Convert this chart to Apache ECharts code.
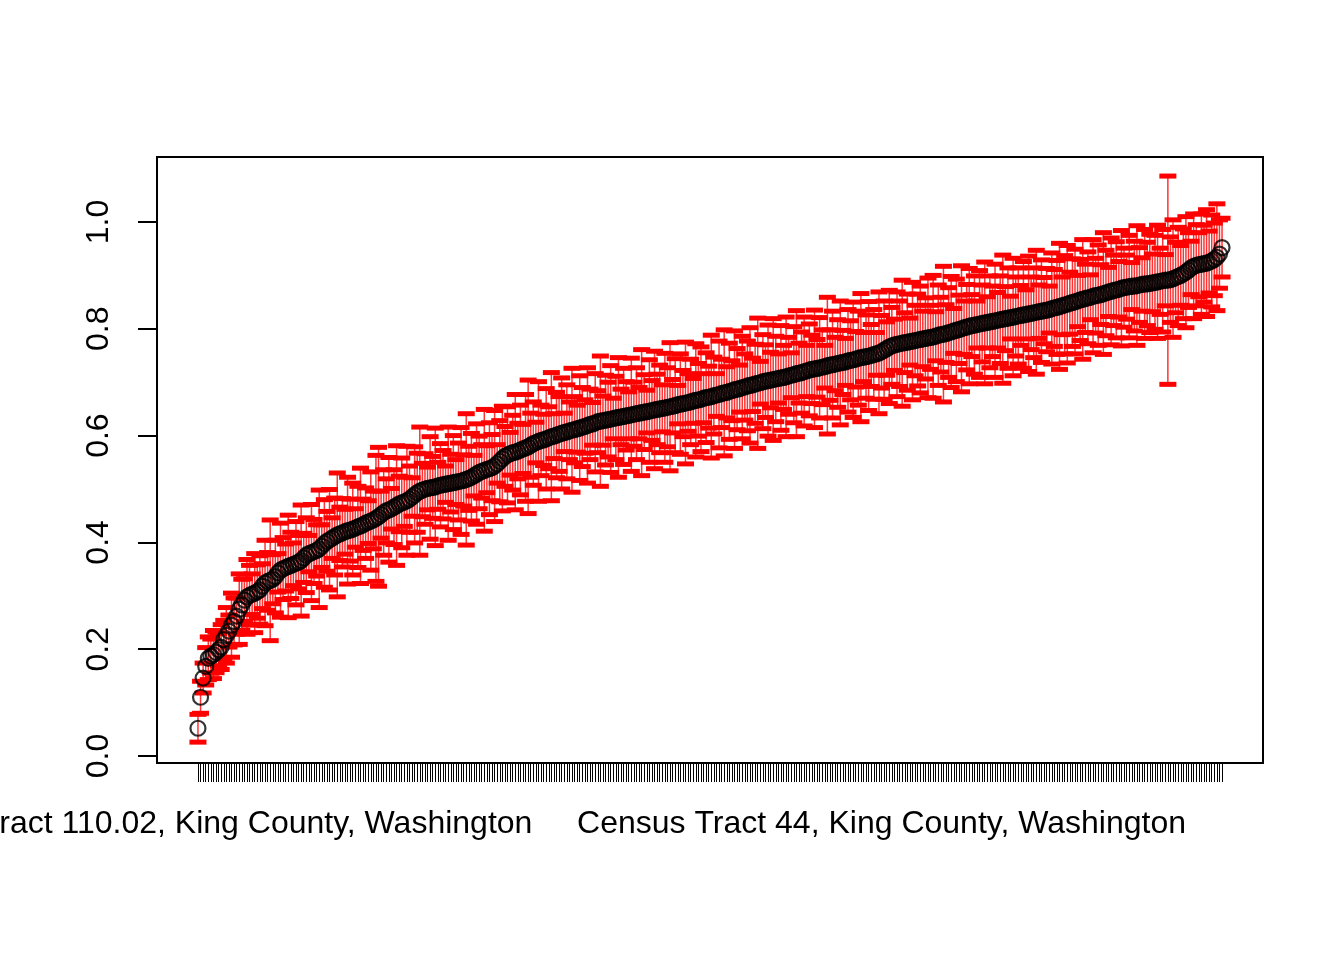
<!DOCTYPE html>
<html lang="en" style="height: 100%">
  <head>
    <meta charset="utf-8" />
  </head>
  <body style="height: 100%; margin: 0; overflow: hidden; background: #fff">
    <div id="container" style="width: 1344px; height: 960px"></div>
    <script type="text/javascript" src="https://cdn.jsdelivr.net/npm/echarts@6/dist/echarts.min.js"></script>
    <script type="text/javascript">
      // sorted estimate per census tract (black circles)
      const estimate = [
        0.052, 0.110, 0.146, 0.168, 0.183, 0.187, 0.190, 0.194, 0.199, 0.204,
        0.218, 0.226, 0.234, 0.245, 0.252, 0.262, 0.275, 0.283, 0.292, 0.298,
        0.301, 0.303, 0.305, 0.308, 0.311, 0.318, 0.324, 0.327, 0.329, 0.331,
        0.336, 0.343, 0.348, 0.351, 0.353, 0.355, 0.357, 0.359, 0.361, 0.363,
        0.366, 0.371, 0.376, 0.379, 0.381, 0.383, 0.385, 0.388, 0.393, 0.398,
        0.402, 0.405, 0.408, 0.411, 0.414, 0.416, 0.418, 0.420, 0.422, 0.423,
        0.425, 0.427, 0.429, 0.431, 0.433, 0.436, 0.438, 0.440, 0.442, 0.445,
        0.448, 0.452, 0.456, 0.459, 0.461, 0.463, 0.466, 0.469, 0.472, 0.474,
        0.476, 0.478, 0.481, 0.485, 0.489, 0.493, 0.496, 0.498, 0.500, 0.501,
        0.502, 0.503, 0.504, 0.506, 0.507, 0.508, 0.509, 0.510, 0.511, 0.512,
        0.513, 0.514, 0.515, 0.516, 0.518, 0.520, 0.522, 0.525, 0.528, 0.531,
        0.533, 0.535, 0.537, 0.538, 0.540, 0.543, 0.547, 0.552, 0.557, 0.561,
        0.564, 0.566, 0.568, 0.569, 0.571, 0.573, 0.575, 0.577, 0.579, 0.582,
        0.585, 0.587, 0.589, 0.591, 0.592, 0.594, 0.596, 0.598, 0.599, 0.601,
        0.603, 0.604, 0.606, 0.607, 0.609, 0.610, 0.611, 0.613, 0.614, 0.616,
        0.617, 0.619, 0.621, 0.622, 0.624, 0.626, 0.627, 0.628, 0.629, 0.630,
        0.631, 0.632, 0.633, 0.634, 0.635, 0.636, 0.637, 0.638, 0.639, 0.640,
        0.641, 0.642, 0.643, 0.644, 0.645, 0.646, 0.647, 0.648, 0.649, 0.650,
        0.651, 0.652, 0.653, 0.654, 0.655, 0.656, 0.658, 0.659, 0.660, 0.661,
        0.662, 0.663, 0.665, 0.666, 0.667, 0.668, 0.670, 0.671, 0.672, 0.673,
        0.675, 0.676, 0.677, 0.679, 0.680, 0.681, 0.683, 0.684, 0.686, 0.687,
        0.688, 0.690, 0.691, 0.693, 0.694, 0.695, 0.697, 0.698, 0.699, 0.701,
        0.702, 0.703, 0.704, 0.705, 0.706, 0.707, 0.708, 0.709, 0.710, 0.712,
        0.713, 0.714, 0.716, 0.717, 0.718, 0.720, 0.721, 0.723, 0.724, 0.725,
        0.726, 0.727, 0.728, 0.729, 0.731, 0.732, 0.733, 0.734, 0.735, 0.736,
        0.737, 0.738, 0.740, 0.741, 0.742, 0.743, 0.745, 0.746, 0.747, 0.748,
        0.749, 0.750, 0.752, 0.753, 0.755, 0.757, 0.760, 0.763, 0.766, 0.768,
        0.770, 0.771, 0.772, 0.773, 0.774, 0.775, 0.776, 0.777, 0.778, 0.779,
        0.780, 0.781, 0.782, 0.783, 0.784, 0.785, 0.786, 0.788, 0.789, 0.790,
        0.791, 0.793, 0.794, 0.796, 0.797, 0.799, 0.800, 0.802, 0.803, 0.805,
        0.806, 0.807, 0.808, 0.809, 0.810, 0.811, 0.812, 0.813, 0.814, 0.815,
        0.816, 0.817, 0.818, 0.819, 0.820, 0.821, 0.822, 0.823, 0.824, 0.825,
        0.826, 0.827, 0.828, 0.829, 0.830, 0.831, 0.832, 0.833, 0.834, 0.835,
        0.836, 0.838, 0.839, 0.840, 0.842, 0.843, 0.845, 0.846, 0.848, 0.849,
        0.851, 0.852, 0.854, 0.855, 0.857, 0.858, 0.859, 0.861, 0.862, 0.863,
        0.864, 0.866, 0.867, 0.869, 0.870, 0.872, 0.873, 0.874, 0.876, 0.877,
        0.878, 0.879, 0.880, 0.880, 0.881, 0.882, 0.883, 0.884, 0.884, 0.885,
        0.886, 0.887, 0.888, 0.889, 0.890, 0.891, 0.891, 0.892, 0.894, 0.896,
        0.898, 0.900, 0.903, 0.906, 0.910, 0.914, 0.917, 0.919, 0.920, 0.921,
        0.922, 0.923, 0.925, 0.927, 0.930, 0.934, 0.940, 0.952
      ]

      // half-width of each red interval
      const halfWidth = [
        0.026, 0.030, 0.028, 0.035, 0.040, 0.032, 0.045, 0.038, 0.030, 0.042,
        0.036, 0.052, 0.030, 0.060, 0.044, 0.034, 0.066, 0.048, 0.040, 0.070,
        0.056, 0.038, 0.074, 0.050, 0.064, 0.042, 0.080, 0.054, 0.113, 0.046,
        0.068, 0.036, 0.088, 0.058, 0.044, 0.096, 0.062, 0.040, 0.078, 0.050,
        0.104, 0.046, 0.070, 0.034, 0.090, 0.060, 0.048, 0.110, 0.040, 0.082,
        0.056, 0.094, 0.038, 0.072, 0.116, 0.050, 0.064, 0.042, 0.100, 0.058,
        0.086, 0.036, 0.076, 0.108, 0.048, 0.066, 0.040, 0.092, 0.054, 0.118,
        0.130, 0.044, 0.080, 0.060, 0.098, 0.038, 0.070, 0.112, 0.052, 0.084,
        0.046, 0.102, 0.062, 0.036, 0.090, 0.074, 0.120, 0.050, 0.066, 0.040,
        0.096, 0.058, 0.110, 0.044, 0.078, 0.064, 0.034, 0.106, 0.054, 0.088,
        0.042, 0.072, 0.100, 0.048, 0.123, 0.060, 0.082, 0.038, 0.094, 0.068,
        0.050, 0.114, 0.044, 0.086, 0.062, 0.104, 0.036, 0.076, 0.098, 0.056,
        0.090, 0.040, 0.070, 0.108, 0.052, 0.084, 0.046, 0.100, 0.125, 0.060,
        0.078, 0.038, 0.112, 0.066, 0.048, 0.094, 0.058, 0.120, 0.042, 0.080,
        0.070, 0.104, 0.036, 0.088, 0.054, 0.116, 0.062, 0.044, 0.098, 0.074,
        0.050, 0.108, 0.066, 0.040, 0.092, 0.058, 0.122, 0.046, 0.084, 0.070,
        0.100, 0.038, 0.078, 0.112, 0.052, 0.090, 0.064, 0.044, 0.106, 0.060,
        0.086, 0.048, 0.118, 0.070, 0.040, 0.096, 0.056, 0.110, 0.066, 0.082,
        0.044, 0.102, 0.074, 0.120, 0.050, 0.088, 0.036, 0.094, 0.062, 0.114,
        0.054, 0.080, 0.042, 0.106, 0.068, 0.098, 0.046, 0.084, 0.058, 0.115,
        0.072, 0.040, 0.100, 0.064, 0.118, 0.048, 0.090, 0.056, 0.110, 0.076,
        0.044, 0.096, 0.062, 0.084, 0.108, 0.050, 0.074, 0.122, 0.040, 0.088,
        0.068, 0.104, 0.052, 0.114, 0.080, 0.046, 0.098, 0.060, 0.112, 0.072,
        0.042, 0.090, 0.118, 0.056, 0.076, 0.102, 0.048, 0.086, 0.064, 0.110,
        0.054, 0.094, 0.070, 0.040, 0.128, 0.066, 0.100, 0.050, 0.082, 0.116,
        0.060, 0.044, 0.096, 0.074, 0.108, 0.052, 0.088, 0.120, 0.046, 0.078,
        0.102, 0.058, 0.084, 0.040, 0.114, 0.068, 0.092, 0.050, 0.106, 0.072,
        0.048, 0.098, 0.080, 0.118, 0.056, 0.090, 0.044, 0.110, 0.066, 0.086,
        0.100, 0.052, 0.076, 0.112, 0.060, 0.115, 0.046, 0.094, 0.070, 0.127,
        0.054, 0.084, 0.104, 0.042, 0.096, 0.064, 0.118, 0.050, 0.080, 0.108,
        0.058, 0.092, 0.044, 0.100, 0.072, 0.114, 0.048, 0.086, 0.066, 0.106,
        0.052, 0.082, 0.120, 0.060, 0.094, 0.040, 0.110, 0.074, 0.090, 0.056,
        0.100, 0.046, 0.108, 0.068, 0.084, 0.116, 0.050, 0.096, 0.062, 0.078,
        0.044, 0.104, 0.072, 0.088, 0.118, 0.054, 0.092, 0.110, 0.058, 0.082,
        0.098, 0.048, 0.076, 0.112, 0.064, 0.086, 0.042, 0.106, 0.070, 0.094,
        0.056, 0.114, 0.080, 0.046, 0.100, 0.066, 0.090, 0.052, 0.108, 0.074,
        0.060, 0.096, 0.044, 0.084, 0.112, 0.070, 0.050, 0.102, 0.078, 0.092,
        0.054, 0.088, 0.106, 0.062, 0.096, 0.048, 0.195, 0.080, 0.110, 0.066,
        0.092, 0.056, 0.084, 0.104, 0.070, 0.050, 0.098, 0.076, 0.060, 0.094,
        0.072, 0.100, 0.058, 0.086, 0.068, 0.100, 0.064, 0.055
      ]

      // the only tick labels R had room for (1-based position on the axis)
      const labelPositions = [1, 266]
      const labelTexts = [
        'Census Tract 110.02, King County, Washington',
        'Census Tract 44, King County, Washington'
      ]
      const yTicks = [0, 0.2, 0.4, 0.6, 0.8, 1.0]

      const n = estimate.length
      const positions = estimate.map((_, i) => i + 1)
      const points = estimate.map((v, i) => [i + 1, v])
      const bars = estimate.map((v, i) => [i + 1, v - halfWidth[i], v + halfWidth[i]])

      const FONT = '"Liberation Sans", Arial, Helvetica, sans-serif'
      const RED = '#ff0000'

      const chart = echarts.init(document.getElementById('container'), null, { renderer: 'canvas' })

      const option = {
        animation: false,
        backgroundColor: '#fff',
        grid: {
          left: 157,
          right: 81,
          top: 157,
          bottom: 197,
          containLabel: false,
          outerBoundsMode: 'none',
          show: true,
          borderColor: '#000',
          borderWidth: 2,
          backgroundColor: 'transparent'
        },
        xAxis: {
          type: 'value',
          min: 1 - 0.04 * (n - 1),
          max: n + 0.04 * (n - 1),
          splitLine: { show: false },
          axisLine: { show: false, onZero: false },
          axisTick: {
            show: true,
            length: 19,
            customValues: positions,
            lineStyle: { color: '#000', width: 1 }
          },
          axisLabel: {
            show: true,
            customValues: labelPositions,
            hideOverlap: false,
            margin: 45,
            fontSize: 32,
            fontFamily: FONT,
            color: '#000',
            formatter: (v) => {
              const k = labelPositions.indexOf(Math.round(v))
              return k > -1 ? labelTexts[k] : ''
            }
          }
        },
        yAxis: {
          type: 'value',
          min: -0.0131,
          max: 1.1217,
          splitLine: { show: false },
          axisLine: { show: false, onZero: false },
          axisTick: {
            show: true,
            length: 19,
            customValues: yTicks,
            lineStyle: { color: '#000', width: 2 }
          },
          axisLabel: {
            show: true,
            customValues: yTicks,
            rotate: 90,
            margin: 42,
            fontSize: 32,
            fontFamily: FONT,
            color: '#000',
            formatter: (v) => v.toFixed(1)
          }
        },
        series: [
          {
            type: 'custom',
            z: 1,
            data: bars,
            renderItem: (params, api) => {
              const x = api.value(0)
              const lo = api.coord([x, api.value(1)])
              const hi = api.coord([x, api.value(2)])
              const capW = 17
              const capH = 5
              return {
                type: 'group',
                children: [
                  {
                    type: 'line',
                    shape: { x1: lo[0], y1: lo[1], x2: hi[0], y2: hi[1] },
                    style: { stroke: RED, lineWidth: 1.5, opacity: 0.8 }
                  },
                  {
                    type: 'rect',
                    shape: { x: hi[0] - capW / 2, y: hi[1] - capH / 2, width: capW, height: capH },
                    style: { fill: RED }
                  },
                  {
                    type: 'rect',
                    shape: { x: lo[0] - capW / 2, y: lo[1] - capH / 2, width: capW, height: capH },
                    style: { fill: RED }
                  }
                ]
              }
            }
          },
          {
            type: 'scatter',
            z: 2,
            data: points,
            symbol: 'circle',
            symbolSize: 15,
            itemStyle: {
              color: 'rgba(0,0,0,0)',
              borderColor: '#000',
              borderWidth: 2.2
            }
          }
        ]
      }

      chart.setOption(option)
      window.addEventListener('resize', chart.resize)
    </script>
  </body>
</html>
